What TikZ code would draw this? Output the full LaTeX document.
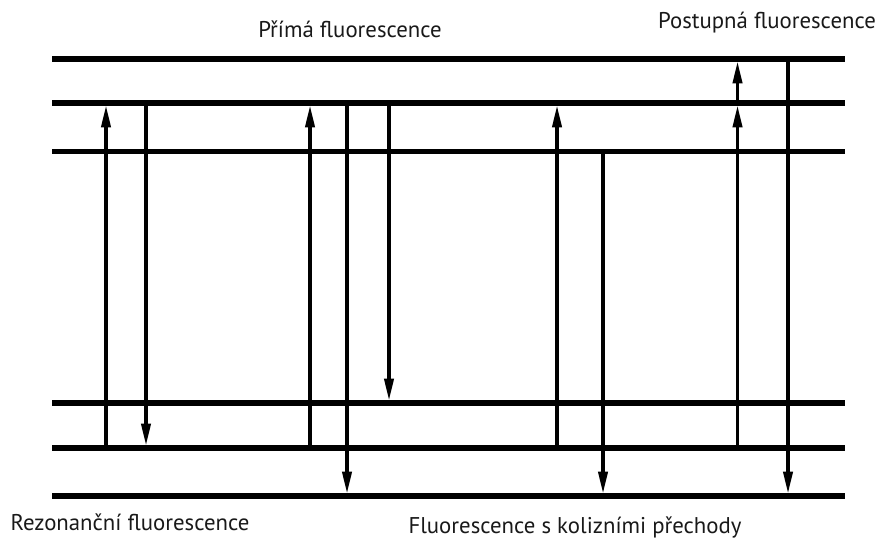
\documentclass[tikz,border=0pt]{standalone}
\usepackage{fontspec}
\setmainfont{PT Sans}
\usetikzlibrary{arrows.meta}

\begin{document}
\begin{tikzpicture}[x=0.025cm, y=-0.025cm,
    level/.style={line width=3.6pt},
    trans/.style={line width=2.2pt, -{Triangle[length=15.5pt, width=6.6pt]}, shorten >=1.8pt},
    lbl/.style={font=\fontsize{16.2}{19}\selectfont, text=black!90}]
  \useasboundingbox (0,0) rectangle (879,538);

  % energy levels
  \foreach \lev/\y in {h3/59, h2/103, h1/151.5, g3/403, g2/448, g1/496}{
    \coordinate (\lev) at (52,\y);
    \draw[level] (\lev) -- ++(793,0);
  }

  % columns of the transitions
  \foreach \col/\x in {r1/106, r2/146, p1/310, p2/347, p3/389, k1/557, k2/603, s1/737.5, s2/788}{
    \coordinate (\col) at (\x,0);
  }

  % rezonancni
  \draw[trans] (r1 |- g2) -- (r1 |- h2);
  \draw[trans] (r2 |- h2) -- (r2 |- g2);
  % prima
  \draw[trans] (p1 |- g2) -- (p1 |- h2);
  \draw[trans] (p2 |- h2) -- (p2 |- g1);
  \draw[trans] (p3 |- h2) -- (p3 |- g3);
  % kolizni prechody
  \draw[trans] (k1 |- g2) -- (k1 |- h2);
  \draw[trans] (k2 |- h1) -- (k2 |- g1);
  % postupna
  \draw[trans] (s1 |- g2) -- (s1 |- h2);
  \draw[trans] (s1 |- h2) -- (s1 |- h3);
  \draw[trans] (s2 |- h3) -- (s2 |- g1);

  \node[lbl] (tprima) at (350,29) {Přímá fluorescence};
  \node[lbl] (tpostup) at (767,23) {Postupná fluorescence};
  \node[lbl] (trez) at (130,522) {Rezonanční fluorescence};
  \node[lbl] (tkol) at (575,527) {Fluorescence s kolizními přechody};

\end{tikzpicture}
\end{document}
